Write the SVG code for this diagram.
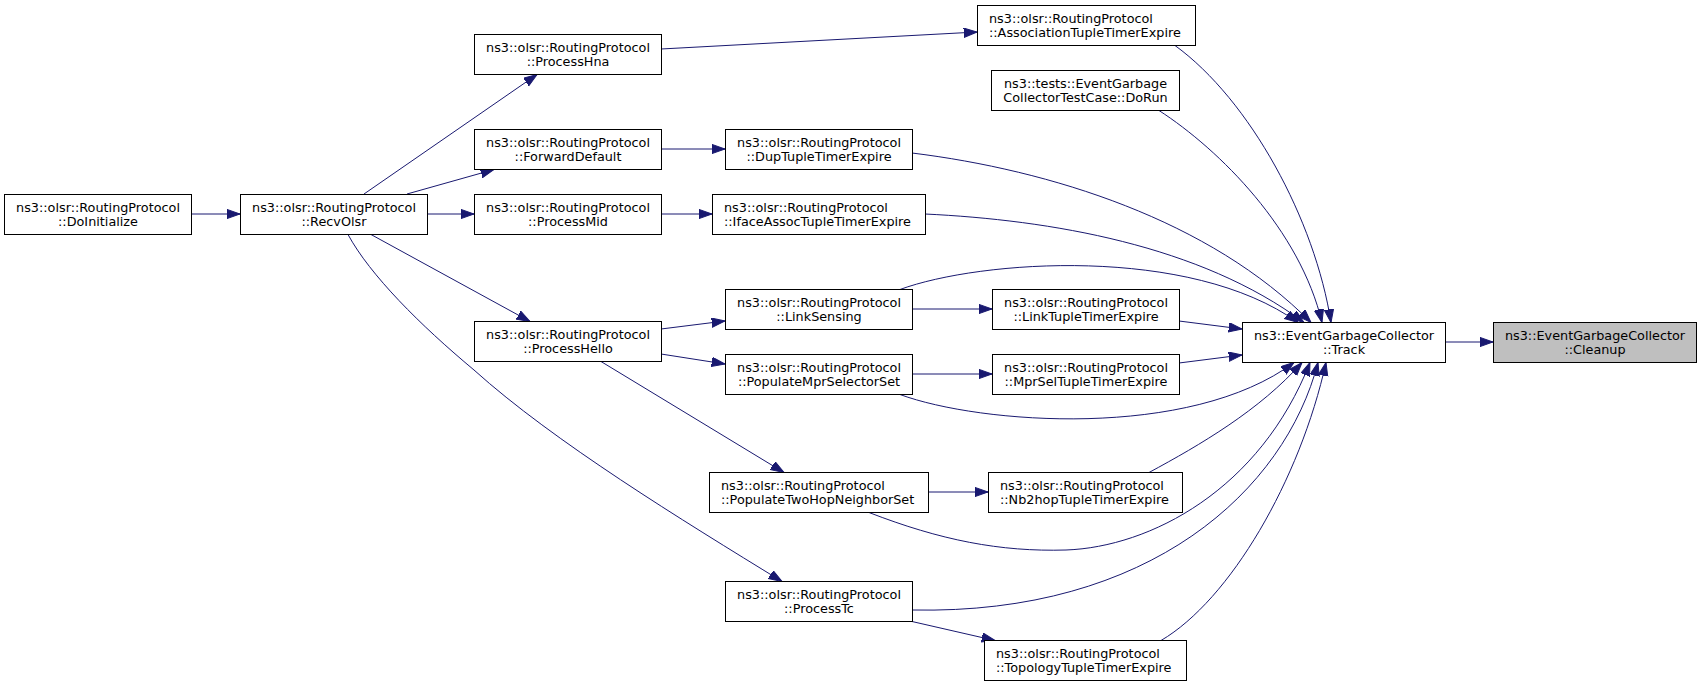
<svg xmlns="http://www.w3.org/2000/svg" width="1701" height="685" viewBox="0 0 1701 685">
<defs>
<style>
.n rect{fill:#ffffff;stroke:#000000;stroke-width:1}
.n.f rect{fill:#bfbfbf}
.n text{font-family:"DejaVu Sans",sans-serif;font-size:12.8px;fill:#000000}
.c{text-anchor:middle}
.e path{fill:none;stroke:#191970;stroke-width:1;marker-end:url(#ah)}
</style>
<marker id="ah" markerUnits="userSpaceOnUse" markerWidth="15" markerHeight="11" refX="13.3" refY="4.7" orient="auto">
<path d="M0,0 L13.3,4.7 L0,9.4 Z" fill="#191970" stroke="#191970" stroke-width="1"/>
</marker>
</defs>
<rect width="1701" height="685" fill="#ffffff"/>
<g id="edges" class="e">
<path d="M192,214 L240,214"/>
<path d="M364,194 L537,74.5"/>
<path d="M407,194 L494,169.5"/>
<path d="M427,214 L474,214"/>
<path d="M371,234.5 L530,321.5"/>
<path d="M348,234.5 C370,275 420,325 474,370 C554,442 682,520 782,581.5"/>
<path d="M661,49 L977,32"/>
<path d="M661,149 L725,149"/>
<path d="M661,214 L712,214"/>
<path d="M661,329 L725,321"/>
<path d="M661,354 L725,364"/>
<path d="M601,361.5 L784,472.5"/>
<path d="M912,309 L992,309"/>
<path d="M912,374 L992,374"/>
<path d="M928,492 L988,492"/>
<path d="M912,621.5 L995,640.5"/>
<path d="M1175,45.5 C1250,100 1315,220 1331,322.5"/>
<path d="M1159,110.5 C1220,150 1300,230 1322,322.5"/>
<path d="M912,153 C1050,170 1210,220 1311,322.5"/>
<path d="M925,214 C1050,220 1200,245 1304,322.5"/>
<path d="M900,289.5 C980,260 1190,245 1298,322.5"/>
<path d="M1179,321 L1242,329"/>
<path d="M1179,363 L1242,355"/>
<path d="M900,394.5 C980,424 1190,440 1294,362.5"/>
<path d="M1149,472.5 C1200,445 1260,410 1302,362.5"/>
<path d="M869,512.5 C940,540 1000,552 1066,550 C1150,547 1260,490 1310,362.5"/>
<path d="M912,610 C1150,615 1285,490 1318,362.5"/>
<path d="M1161,640.5 C1230,600 1300,480 1326,362.5"/>
<path d="M1445,342 L1493,342"/>
</g>
<g id="DoInitialize" class="n"><rect x="4.5" y="194.5" width="187" height="40"/><text class="c" x="98" y="211.5">ns3::olsr::RoutingProtocol</text><text class="c" x="98" y="225.5">::DoInitialize</text></g>
<g id="RecvOlsr" class="n"><rect x="240.5" y="194.5" width="187" height="40"/><text class="c" x="334" y="211.5">ns3::olsr::RoutingProtocol</text><text class="c" x="334" y="225.5">::RecvOlsr</text></g>
<g id="ProcessHna" class="n"><rect x="474.5" y="34.5" width="187" height="40"/><text class="c" x="568" y="51.5">ns3::olsr::RoutingProtocol</text><text class="c" x="568" y="65.5">::ProcessHna</text></g>
<g id="ForwardDefault" class="n"><rect x="474.5" y="129.5" width="187" height="40"/><text class="c" x="568" y="146.5">ns3::olsr::RoutingProtocol</text><text class="c" x="568" y="160.5">::ForwardDefault</text></g>
<g id="ProcessMid" class="n"><rect x="474.5" y="194.5" width="187" height="40"/><text class="c" x="568" y="211.5">ns3::olsr::RoutingProtocol</text><text class="c" x="568" y="225.5">::ProcessMid</text></g>
<g id="ProcessHello" class="n"><rect x="474.5" y="321.5" width="187" height="40"/><text class="c" x="568" y="338.5">ns3::olsr::RoutingProtocol</text><text class="c" x="568" y="352.5">::ProcessHello</text></g>
<g id="AssociationTupleTimerExpire" class="n"><rect x="977.5" y="5.5" width="218" height="40"/><text x="989" y="22.5">ns3::olsr::RoutingProtocol</text><text x="989" y="36.5">::AssociationTupleTimerExpire</text></g>
<g id="DoRun" class="n"><rect x="991.5" y="70.5" width="188" height="40"/><text class="c" x="1085.5" y="87.5">ns3::tests::EventGarbage</text><text class="c" x="1085.5" y="101.5">CollectorTestCase::DoRun</text></g>
<g id="DupTupleTimerExpire" class="n"><rect x="725.5" y="129.5" width="187" height="40"/><text class="c" x="819" y="146.5">ns3::olsr::RoutingProtocol</text><text class="c" x="819" y="160.5">::DupTupleTimerExpire</text></g>
<g id="IfaceAssocTupleTimerExpire" class="n"><rect x="712.5" y="194.5" width="213" height="40"/><text x="724" y="211.5">ns3::olsr::RoutingProtocol</text><text x="724" y="225.5">::IfaceAssocTupleTimerExpire</text></g>
<g id="LinkSensing" class="n"><rect x="725.5" y="289.5" width="187" height="40"/><text class="c" x="819" y="306.5">ns3::olsr::RoutingProtocol</text><text class="c" x="819" y="320.5">::LinkSensing</text></g>
<g id="LinkTupleTimerExpire" class="n"><rect x="992.5" y="289.5" width="187" height="40"/><text class="c" x="1086" y="306.5">ns3::olsr::RoutingProtocol</text><text class="c" x="1086" y="320.5">::LinkTupleTimerExpire</text></g>
<g id="PopulateMprSelectorSet" class="n"><rect x="725.5" y="354.5" width="187" height="40"/><text class="c" x="819" y="371.5">ns3::olsr::RoutingProtocol</text><text class="c" x="819" y="385.5">::PopulateMprSelectorSet</text></g>
<g id="MprSelTupleTimerExpire" class="n"><rect x="992.5" y="354.5" width="187" height="40"/><text class="c" x="1086" y="371.5">ns3::olsr::RoutingProtocol</text><text class="c" x="1086" y="385.5">::MprSelTupleTimerExpire</text></g>
<g id="PopulateTwoHopNeighborSet" class="n"><rect x="709.5" y="472.5" width="219" height="40"/><text x="721" y="489.5">ns3::olsr::RoutingProtocol</text><text x="721" y="503.5">::PopulateTwoHopNeighborSet</text></g>
<g id="Nb2hopTupleTimerExpire" class="n"><rect x="988.5" y="472.5" width="194" height="40"/><text x="1000" y="489.5">ns3::olsr::RoutingProtocol</text><text x="1000" y="503.5">::Nb2hopTupleTimerExpire</text></g>
<g id="ProcessTc" class="n"><rect x="725.5" y="581.5" width="187" height="40"/><text class="c" x="819" y="598.5">ns3::olsr::RoutingProtocol</text><text class="c" x="819" y="612.5">::ProcessTc</text></g>
<g id="TopologyTupleTimerExpire" class="n"><rect x="984.5" y="640.5" width="202" height="40"/><text x="996" y="657.5">ns3::olsr::RoutingProtocol</text><text x="996" y="671.5">::TopologyTupleTimerExpire</text></g>
<g id="Track" class="n"><rect x="1242.5" y="322.5" width="203" height="40"/><text class="c" x="1344" y="339.5">ns3::EventGarbageCollector</text><text class="c" x="1344" y="353.5">::Track</text></g>
<g id="Cleanup" class="n f"><rect x="1493.5" y="322.5" width="203" height="40"/><text class="c" x="1595" y="339.5">ns3::EventGarbageCollector</text><text class="c" x="1595" y="353.5">::Cleanup</text></g>
</svg>
